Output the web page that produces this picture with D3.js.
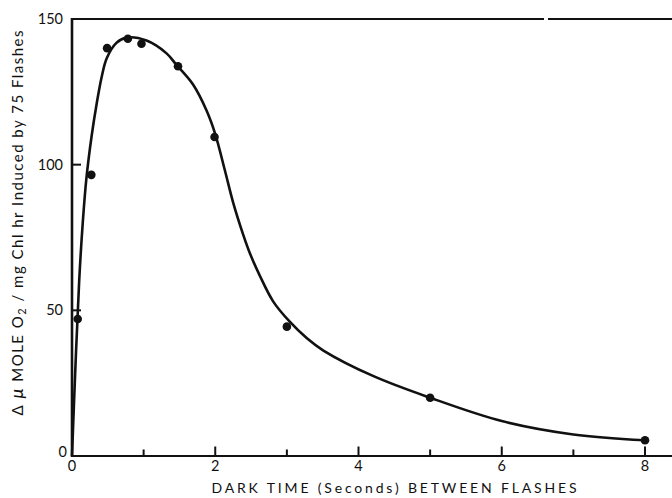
<!DOCTYPE html>
<html>
<head>
<meta charset="utf-8">
<script src="https://cdn.jsdelivr.net/npm/d3@7"></script>
<style>
  html, body { margin: 0; padding: 0; background: #fff; }
  svg { display: block; }
  text { font-family: Lato, "Noto Sans", sans-serif; fill: #111; }
</style>
</head>
<body>
<svg id="chart" width="672" height="498"></svg>
<script>
// Measured oxygen yield for each dark interval between flashes
const darkTime = [0.08, 0.27, 0.49, 0.78, 0.97, 1.48, 1.99, 3.0, 5.0, 8.0];
const o2Yield  = [47, 96.5, 140, 143.2, 141.5, 133.8, 109.5, 44.4, 20, 5.4];

// Hand-fitted smooth curve through the measurements
const curveTime  = [0, 0.05, 0.1, 0.15, 0.2, 0.275, 0.345, 0.415, 0.485, 0.62, 0.76, 1.04, 1.32, 1.46, 1.69, 1.88, 2.0, 2.135, 2.25, 2.39, 2.485, 2.62, 2.81, 3.04, 3.28, 3.51, 4.21, 5.0, 6.0, 7.0, 8.0];
const curveYield = [0, 32, 60, 80, 95, 110, 121, 130.2, 136.5, 141.8, 143.6, 142.6, 138.2, 134.2, 127.5, 118.5, 110.5, 98, 87, 76, 69.5, 62, 53, 46.1, 40.4, 36.2, 27.4, 20, 12, 7.4, 5.4];

const xMajorTicks = [0, 2, 4, 6, 8];
const xMinorTicks = [1, 3, 5, 7];
const yTicks = [0, 50, 100, 150];

const svg = d3.select("#chart");
const W = 672;

const x = d3.scaleLinear().domain([0, 8]).range([72, 645]);
const y = d3.scaleLinear().domain([0, 150]).range([456, 19]);

const ink = "#111";

// Frame: left axis, bottom axis, top rule (with a small break)
svg.append("line")
  .attr("x1", x(0)).attr("x2", x(0))
  .attr("y1", y(150) - 1).attr("y2", y(0) + 1)
  .attr("stroke", ink).attr("stroke-width", 2.6);
svg.append("line")
  .attr("x1", x(0) - 1).attr("x2", W)
  .attr("y1", y(0)).attr("y2", y(0))
  .attr("stroke", ink).attr("stroke-width", 2);
svg.append("line")
  .attr("x1", x(0) - 1).attr("x2", 544)
  .attr("y1", y(150)).attr("y2", y(150))
  .attr("stroke", ink).attr("stroke-width", 2.2);
svg.append("line")
  .attr("x1", 548).attr("x2", W)
  .attr("y1", y(150)).attr("y2", y(150))
  .attr("stroke", ink).attr("stroke-width", 2.2);

// X ticks point inward (upward)
svg.append("g").selectAll("line")
  .data(xMajorTicks.filter(d => d > 0))
  .join("line")
  .attr("x1", d => x(d)).attr("x2", d => x(d))
  .attr("y1", y(0)).attr("y2", y(0) - 9.5)
  .attr("stroke", ink).attr("stroke-width", 2);
svg.append("g").selectAll("line")
  .data(xMinorTicks)
  .join("line")
  .attr("x1", d => x(d)).attr("x2", d => x(d))
  .attr("y1", y(0)).attr("y2", y(0) - 6.5)
  .attr("stroke", ink).attr("stroke-width", 2);

// Y ticks point inward (rightward)
svg.append("g").selectAll("line")
  .data(yTicks.filter(d => d > 0 && d < 150))
  .join("line")
  .attr("x1", x(0)).attr("x2", x(0) + 9)
  .attr("y1", d => y(d)).attr("y2", d => y(d))
  .attr("stroke", ink).attr("stroke-width", 2);

// Tick labels
svg.append("g").selectAll("text")
  .data(xMajorTicks)
  .join("text")
  .attr("x", d => x(d))
  .attr("y", 471)
  .attr("text-anchor", "middle")
  .attr("font-size", 14.5)
  .text(d => d);
svg.append("g").selectAll("text")
  .data(yTicks)
  .join("text")
  .attr("x", d => d === 0 ? 67 : 63)
  .attr("y", d => y(d) + (d === 0 ? 1 : 5))
  .attr("text-anchor", "end")
  .attr("font-size", 14.5)
  .text(d => d);

// Axis titles
svg.append("text")
  .attr("x", 394)
  .attr("y", 493)
  .attr("text-anchor", "middle")
  .attr("font-size", 14)
  .attr("textLength", 365)
  .attr("lengthAdjust", "spacing")
  .text("DARK TIME (Seconds) BETWEEN FLASHES");

const yt = svg.append("text")
  .attr("transform", "translate(23,223) rotate(-90)")
  .attr("text-anchor", "middle")
  .attr("font-size", 15)
  .attr("textLength", 385)
  .attr("lengthAdjust", "spacing");
yt.append("tspan").text("Δ ");
yt.append("tspan").attr("font-size", 18).attr("font-style", "italic").text("μ");
yt.append("tspan").text(" MOLE O");
yt.append("tspan").attr("font-size", 11).attr("dy", 3).text("2");
yt.append("tspan").attr("dy", -3).text(" / mg Chl hr Induced by 75 Flashes");

// Fitted curve
const line = d3.line()
  .x((d, i) => x(curveTime[i]))
  .y(d => y(d))
  .curve(d3.curveCatmullRom.alpha(0.5));
svg.append("path")
  .datum(curveYield)
  .attr("d", line)
  .attr("fill", "none")
  .attr("stroke", ink)
  .attr("stroke-width", 2.6)
  .attr("stroke-linejoin", "round");

// Measured points
svg.append("g").selectAll("circle")
  .data(o2Yield)
  .join("circle")
  .attr("cx", (d, i) => x(darkTime[i]))
  .attr("cy", d => y(d))
  .attr("r", 4.3)
  .attr("fill", ink);
</script>
</body>
</html>
